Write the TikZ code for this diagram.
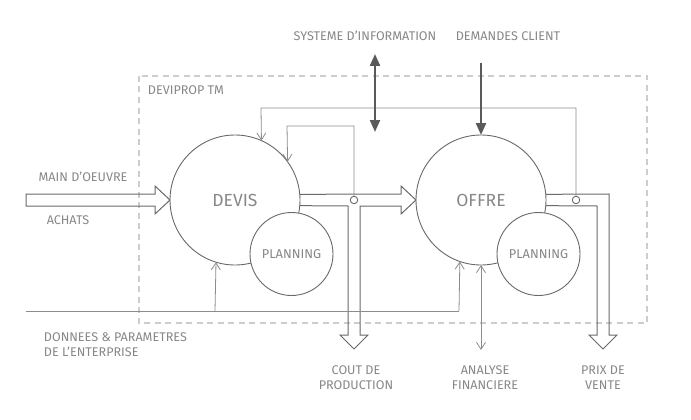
\documentclass[tikz,border=0pt]{standalone}
\usepackage{fontspec}
\setmainfont{Fira Sans}
\usetikzlibrary{arrows.meta}

\definecolor{txtgray}{RGB}{135,135,135}
\definecolor{linegray}{RGB}{105,105,105}
\definecolor{thingray}{RGB}{140,140,140}
\definecolor{boxgray}{RGB}{205,205,205}
\definecolor{darkgray}{RGB}{90,90,90}

\tikzset{
  label/.style={text=txtgray, font=\fontsize{12.6}{15}\selectfont, inner sep=0.75pt, align=center},
  bigcircle/.style={circle, draw=linegray, line width=0.9pt, minimum size=130pt, inner sep=0pt, outer sep=0pt, text=txtgray, font=\fontsize{17.5}{20}\selectfont},
  plancircle/.style={circle, draw=linegray, line width=0.9pt, minimum size=83pt, inner sep=0pt, outer sep=0pt, fill=white, text=txtgray, font=\fontsize{12.8}{15}\selectfont},
  tap/.style={circle, draw=linegray, line width=0.9pt, minimum size=7.5pt, inner sep=0pt, outer sep=0pt, fill=white},
  hollow/.style={draw=linegray, line width=1pt, line join=miter},
  feed/.style={draw=thingray, line width=0.8pt, -{Straight Barb[length=7pt,width=9pt]}},
  heavy/.style={draw=darkgray, line width=2.2pt, -{Triangle[length=12pt,width=10pt]}}
}

\begin{document}
\begin{tikzpicture}[x=1pt,y=1pt,yscale=-1,xscale=1]
\useasboundingbox (0,0) rectangle (691,420);

%Dashed frame
\draw [boxgray, line width=1.3pt, dash pattern=on 6pt off 4.5pt] (139,76) rectangle (647,323);

% Circles
\node [bigcircle] (devis) at (235,200) {DEVIS};
\node [bigcircle] (offre) at (481,200) {OFFRE};
\node [plancircle] (planA) at (291.5,254) {PLANNING};
\node [plancircle] (planB) at (538.5,254) {PLANNING};

%Hollow arrow in
\draw [hollow] (26,194) -- (155,194) -- (155,186) -- (devis.west) -- (155,214) -- (155,206) -- (26,206) -- cycle;
%Hollow arrow devis to offre, branch down
\draw [hollow] (devis.5.3) -- (401,194) -- (401,186) -- (offre.west) -- (401,214) -- (401,206) -- (360,206) -- (360,335) -- (368,335) -- (354,349) -- (340,335) -- (348,335) -- (348,206) -- (devis.-5.3);
%Hollow arrow offre down
\draw [hollow] (offre.5.3) -- (609,194) -- (609,335) -- (617,335) -- (603,349) -- (589,335) -- (597,335) -- (597,206) -- (offre.-5.3);

% Taps
\node [tap] (tapA) at (354,200) {};
\node [tap] (tapB) at (576,200) {};
\coordinate (loopA) at (287,126);
\coordinate (loopB) at (261,108);

%Feedback lines
\draw [feed] (tapA.north) |- (loopA) -- (devis.36.87);
\draw [feed] (tapB.north) |- (loopB) -- (devis.66.42);

%Data line
\coordinate (dataStart) at (26,311);
\coordinate (dataA) at (215,311);
\coordinate (dataB) at (459,311);
\draw [thingray, line width=0.8pt] (dataStart) -- (dataB);
\draw [feed] (dataB) -- (offre.-109.8);
\draw [feed] (dataA) -- (devis.-107.9);

%Analyse financiere
\coordinate (finEnd) at (481,350);
\draw [feed, {Straight Barb[length=7pt,width=9pt]}-{Straight Barb[length=7pt,width=9pt]}] (offre.south) -- (finEnd);

%Heavy arrows
\coordinate (sysTop) at (375,54);
\coordinate (sysBot) at (375,132);
\coordinate (demTop) at (481,63);
\draw [heavy, {Triangle[length=12pt,width=10pt]}-{Triangle[length=12pt,width=10pt]}] (sysTop) -- (sysBot);
\draw [heavy] (demTop) -- (offre.north);

% Text Node
\node [label] (sysLbl) at (365,36) {SYSTEME D'INFORMATION};
% Text Node
\node [label] (demLbl) at (508,36) {DEMANDES CLIENT};
% Text Node
\node [label, anchor=west] (frameLbl) at (147,90) {DEVIPROP TM};
% Text Node
\node [label] (mainLbl) at (83,177) {MAIN D'OEUVRE};
% Text Node
\node [label] (achLbl) at (68,220) {ACHATS};
% Text Node
\node [label, anchor=west, align=left] (donLbl) at (43,345) {DONNEES \& PARAMETRES\\DE L'ENTERPRISE};
% Text Node
\node [label] (coutLbl) at (356,378) {COUT DE\\PRODUCTION};
% Text Node
\node [label] (anaLbl) at (485,378) {ANALYSE\\FINANCIERE};
% Text Node
\node [label] (prixLbl) at (603,378) {PRIX DE\\VENTE};

\end{tikzpicture}
\end{document}
